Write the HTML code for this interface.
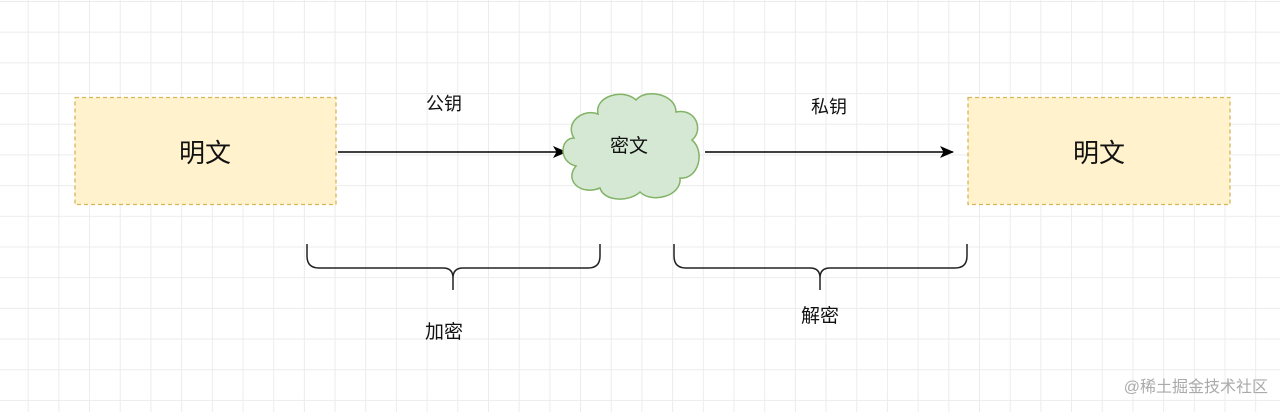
<!DOCTYPE html>
<html><head><meta charset="utf-8"><style>
html,body{margin:0;padding:0;}
body{width:1280px;height:412px;overflow:hidden;background:#fff;
background-image:linear-gradient(#ececec 1px,transparent 1px),linear-gradient(90deg,#ececec 1px,transparent 1px);
background-size:30.7px 30.7px;background-position:-3px 1px;position:relative;
font-family:"Liberation Sans","Noto Sans CJK SC",sans-serif;}
</style></head><body>
<svg width="1280" height="412" style="position:absolute;left:0;top:0" font-family="Liberation Sans, Noto Sans CJK SC, sans-serif">
<defs><marker id="a" markerWidth="14" markerHeight="12" refX="13" refY="6" orient="auto" markerUnits="userSpaceOnUse"><path d="M0,0 L14,6 L0,12 L3.5,6 Z" fill="#000"/></marker></defs>
<rect x="75" y="97.5" width="261" height="107" fill="#fff2cc" stroke="#d6b656" stroke-width="1.3" stroke-dasharray="4 3"/>
<text x="205" y="162" font-size="26" text-anchor="middle" fill="#111">明文</text>
<rect x="968" y="97.5" width="262" height="107" fill="#fff2cc" stroke="#d6b656" stroke-width="1.3" stroke-dasharray="4 3"/>
<text x="1099" y="162" font-size="26" text-anchor="middle" fill="#111">明文</text>
<line x1="338" y1="152" x2="566" y2="152" stroke="#000" stroke-width="1.5" marker-end="url(#a)"/>
<line x1="705" y1="152" x2="953" y2="152" stroke="#000" stroke-width="1.5" marker-end="url(#a)"/>
<path d="M598,114 C594,96 624,88 636,100 C646,88 676,94 676,112 C696,108 704,130 692,140 C706,152 698,180 680,178 C682,196 652,204 640,192 C630,202 604,202 600,188 C580,196 564,180 576,166 C558,162 560,138 574,138 C564,122 584,108 598,114 Z" fill="#d5e8d4" stroke="#82b366" stroke-width="1.5"/>
<text x="629" y="152" font-size="19" text-anchor="middle" fill="#111">密文</text>
<text x="444" y="110" font-size="18" text-anchor="middle" fill="#111">公钥</text>
<text x="829" y="113" font-size="18" text-anchor="middle" fill="#111">私钥</text>
<path d="M307,244 V256 Q307,268 319,268 H443 Q453,268 453,278 V290 M453,278 Q453,268 463,268 H588 Q600,268 600,256 V244" fill="none" stroke="#222" stroke-width="1.5"/>
<path d="M674,244 V256 Q674,268 686,268 H810 Q820,268 820,278 V290 M820,278 Q820,268 830,268 H955 Q967,268 967,256 V244" fill="none" stroke="#222" stroke-width="1.5"/>
<text x="444" y="338" font-size="19" text-anchor="middle" fill="#111">加密</text>
<text x="820" y="322" font-size="19" text-anchor="middle" fill="#111">解密</text>
<text x="1268" y="392" font-size="16" text-anchor="end" fill="#aaa">@稀土掘金技术社区</text>
</svg>
</body></html>
